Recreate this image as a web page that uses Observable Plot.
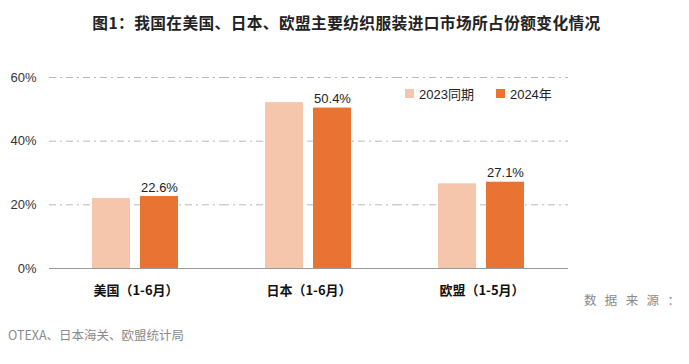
<!DOCTYPE html>
<html>
<head>
<meta charset="utf-8">
<script src="https://cdn.jsdelivr.net/npm/d3@7"></script>
<script src="https://cdn.jsdelivr.net/npm/@observablehq/plot@0.6"></script>
<style>
  html, body { margin: 0; padding: 0; background: #fff; }
  #wrap { position: relative; width: 689px; height: 364px; overflow: hidden;
          font-family: "Noto Sans CJK SC", "Liberation Sans", sans-serif; }
  #title { position: absolute; left: 0; width: 689px; top: 11px; text-align: center;
           font-size: 15.7px; font-weight: bold; color: #222; letter-spacing: 0.4px; padding-left: 4px; box-sizing: border-box; }
  #legend { position: absolute; left: 405px; top: 84px; font-size: 13px; color: #222;
            font-family: "Liberation Sans", "Noto Sans CJK SC", sans-serif; display: flex; gap: 22px; }
  #legend span.item { display: flex; align-items: center; }
  #legend i { display: inline-block; width: 9px; height: 9px; margin-right: 5px; }
  #src1 { position: absolute; left: 584px; width: 96px; top: 290px; font-size: 12.5px; color: #8a8a8a;
          text-align: justify; text-align-last: justify; white-space: normal; }
  #src1 span { display: inline; }
  #src2 { position: absolute; left: 8px; top: 325px; font-size: 12.5px; color: #8a8a8a; white-space: nowrap; }
  #chart { position: absolute; left: 0; top: 0; }
</style>
</head>
<body>
<div id="wrap">
  <div id="chart"></div>
  <div id="title"></div>
  <div id="legend"></div>
  <div id="src1"></div>
  <div id="src2"></div>
</div>
<script>
const titleText = "图1：我国在美国、日本、欧盟主要纺织服装进口市场所占份额变化情况";
const regions = ["美国（1-6月）", "日本（1-6月）", "欧盟（1-5月）"];
const series = ["2023同期", "2024年"];
const values2023 = [22.0, 52.1, 26.6];
const values2024 = [22.6, 50.4, 27.1];
const yTicks = [0, 20, 40, 60];
const colors = ["#F5C6AB", "#E87332"];
const sourceLabel = "数据来源：";
const sourceText = "OTEXA、日本海关、欧盟统计局";

const data = [];
regions.forEach((r, i) => {
  data.push({region: r, series: series[0], value: values2023[i]});
  data.push({region: r, series: series[1], value: values2024[i]});
});

document.getElementById("title").textContent = titleText;
// spaces between characters so the justified line spreads them like the reference
document.getElementById("src1").textContent = Array.from(sourceLabel).join(" ");
document.getElementById("src2").textContent = sourceText;
const legend = document.getElementById("legend");
series.forEach((s, i) => {
  const item = document.createElement("span");
  item.className = "item";
  item.innerHTML = `<i style="background:${colors[i]}"></i>${s}`;
  legend.appendChild(item);
});

const chart = Plot.plot({
  width: 689,
  height: 364,
  marginTop: 77,
  marginBottom: 96,
  marginLeft: 48,
  marginRight: 121,
  style: {fontFamily: "'Liberation Sans', 'Noto Sans CJK SC', sans-serif", fontSize: "13px", color: "#222", background: "transparent"},
  fx: {domain: regions, padding: 0, label: null},
  x: {domain: series, paddingInner: 0.204, paddingOuter: 0.87, axis: null},
  y: {domain: [0, 60], label: null},
  color: {domain: series, range: colors},
  marks: [
    Plot.ruleY(yTicks.filter(d => d > 0), {stroke: "#b8b8b8", strokeWidth: 1, strokeDasharray: "7,4,2,4"}),
    Plot.barY(data, {fx: "region", x: "series", y: "value", fill: "series"}),
    Plot.text(data.filter(d => d.series === series[1]), {
      fx: "region", x: "series", y: "value",
      text: d => d.value.toFixed(1) + "%",
      lineAnchor: "bottom", dy: -5, fill: "#222", fontSize: 13
    }),
    Plot.ruleY([0], {stroke: "#999", strokeWidth: 1}),
    Plot.axisY({ticks: yTicks, tickFormat: d => d + "%", tickSize: 0, tickPadding: 13, line: true,
                stroke: "#999", fill: "#333", label: null, fontSize: 13}),
    Plot.axisFx({anchor: "bottom", tickSize: 0, tickPadding: 17, label: null, fontWeight: "bold", fontSize: 13,
                 fontFamily: "'Noto Sans CJK SC', sans-serif", fill: "#111"})
  ]
});
document.getElementById("chart").appendChild(chart);
</script>
</body>
</html>
